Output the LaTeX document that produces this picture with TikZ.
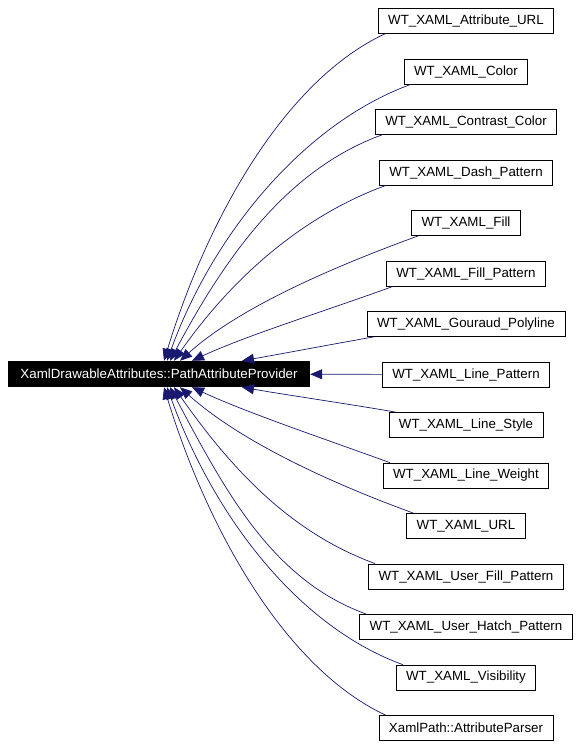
\documentclass[tikz,border=0pt]{standalone}
\usepackage{fontspec}
\setmainfont{Liberation Sans}
\usetikzlibrary{arrows.meta}
\definecolor{navy}{HTML}{191970}
\begin{document}
\begin{tikzpicture}[
        x=1pt, y=1pt,
        font=\fontsize{13.33}{16}\selectfont,
        cls/.style={draw, line width=0.8pt, fill=white, inner xsep=10pt,
            inner ysep=0pt, minimum height=25pt},
        base/.style={fill=black, text=white, inner sep=0pt, minimum width=302pt,
            minimum height=26pt},
        dep/.style={draw=navy, line width=0.7pt,
            -{Triangle[length=12pt,width=10pt]}}
    ]
        \useasboundingbox (0,0) rectangle (579,-747);
        \node[base] (pap) at (159,-374)
            {XamlDrawableAttributes::PathAttributeProvider};
        \node[cls] (attrurl) at (466,-21) {WT\_XAML\_Attribute\_URL};
        \node[cls] (color) at (466,-71.5) {WT\_XAML\_Color};
        \node[cls] (contrast) at (466,-122) {WT\_XAML\_Contrast\_Color};
        \node[cls] (dash) at (466,-172.5) {WT\_XAML\_Dash\_Pattern};
        \node[cls] (fill) at (466,-223) {WT\_XAML\_Fill};
        \node[cls] (fillpat) at (466,-273.5) {WT\_XAML\_Fill\_Pattern};
        \node[cls] (gouraud) at (466,-324) {WT\_XAML\_Gouraud\_Polyline};
        \node[cls] (linepat) at (466,-374.5) {WT\_XAML\_Line\_Pattern};
        \node[cls] (linestyle) at (466,-425) {WT\_XAML\_Line\_Style};
        \node[cls] (lineweight) at (466,-475.5) {WT\_XAML\_Line\_Weight};
        \node[cls] (url) at (466,-526) {WT\_XAML\_URL};
        \node[cls] (userfill) at (466,-576.5) {WT\_XAML\_User\_Fill\_Pattern};
        \node[cls] (userhatch) at (466,-627) {WT\_XAML\_User\_Hatch\_Pattern};
        \node[cls] (visib) at (466,-677.5) {WT\_XAML\_Visibility};
        \node[cls] (parser) at (466,-728) {XamlPath::AttributeParser};
        % upper half
        \draw[dep] ([xshift=7pt]attrurl.south west)
            .. controls +(205:110pt) and +(73:150pt) .. ([xshift=5pt]pap.north);
        \draw[dep] ([xshift=7pt]color.south west)
            .. controls +(200:110pt) and +(70:140pt) .. ([xshift=8pt]pap.north);
        \draw[dep] ([xshift=7pt]contrast.south west)
            .. controls +(200:100pt) and +(62:120pt) .. ([xshift=11pt]pap.north);
        \draw[dep] ([xshift=7pt]dash.south west)
            .. controls +(200:90pt) and +(55:100pt) .. ([xshift=15pt]pap.north);
        \draw[dep] ([xshift=7pt]fill.south west)
            .. controls +(200:90pt) and +(42:80pt) .. ([xshift=21pt]pap.north);
        \draw[dep] ([xshift=7pt]fillpat.south west)
            .. controls +(200:70pt) and +(25:60pt) .. ([xshift=33pt]pap.north);
        \draw[dep] ([xshift=7pt]gouraud.south west)
            .. controls +(190:40pt) and +(10:40pt) .. ([xshift=83pt]pap.north);
        \draw[dep] (linepat) -- (pap);
        % lower half
        \draw[dep] ([xshift=7pt]linestyle.north west)
            .. controls +(170:40pt) and +(-10:40pt) .. ([xshift=83pt]pap.south);
        \draw[dep] ([xshift=7pt]lineweight.north west)
            .. controls +(160:70pt) and +(-25:60pt) .. ([xshift=33pt]pap.south);
        \draw[dep] ([xshift=7pt]url.north west)
            .. controls +(160:90pt) and +(-42:80pt) .. ([xshift=21pt]pap.south);
        \draw[dep] ([xshift=7pt]userfill.north west)
            .. controls +(160:90pt) and +(-55:100pt) .. ([xshift=15pt]pap.south);
        \draw[dep] ([xshift=7pt]userhatch.north west)
            .. controls +(160:100pt) and +(-62:120pt) .. ([xshift=11pt]pap.south);
        \draw[dep] ([xshift=7pt]visib.north west)
            .. controls +(160:110pt) and +(-70:140pt) .. ([xshift=8pt]pap.south);
        \draw[dep] ([xshift=7pt]parser.north west)
            .. controls +(155:110pt) and +(-73:150pt) .. ([xshift=5pt]pap.south);
    \end{tikzpicture}
\end{document}
